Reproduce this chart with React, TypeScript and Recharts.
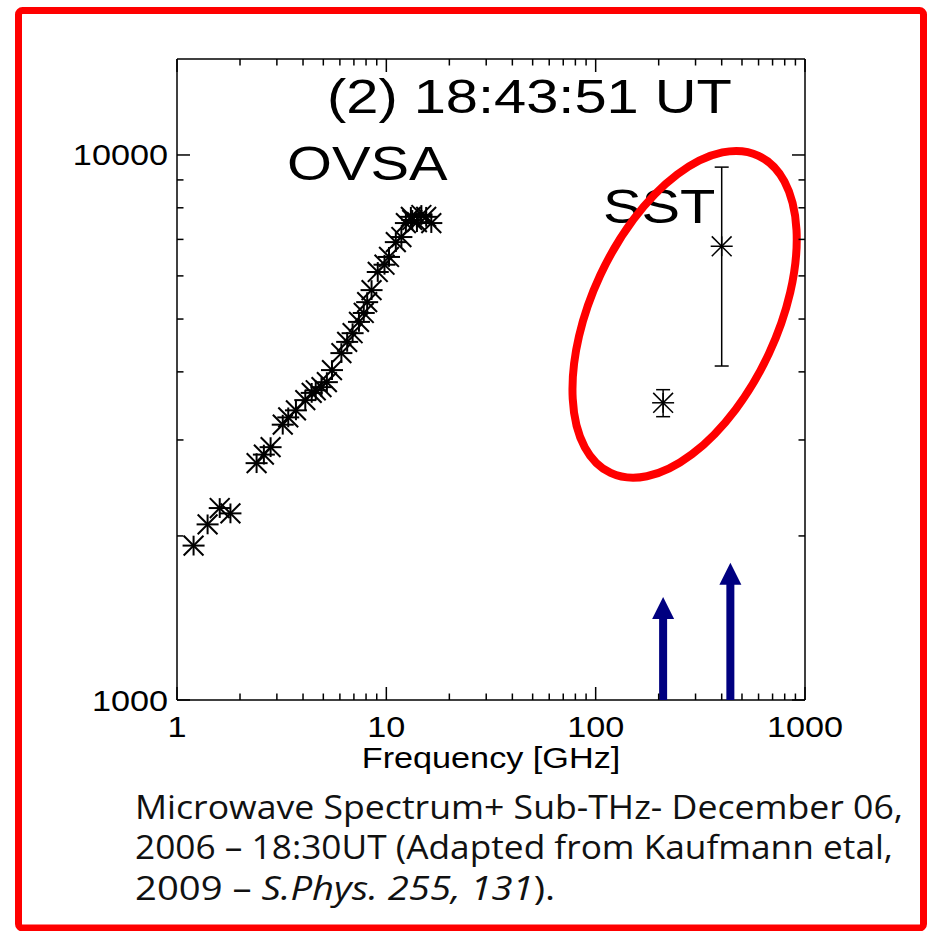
import React from 'react';
import { ScatterChart, Scatter, XAxis, YAxis, ErrorBar, ReferenceDot } from 'recharts';

// OVSA flux densities (sfu) against frequency (GHz)
const ovsaFreq = [1.2, 1.4, 1.6, 1.8, 2.4, 2.6, 2.8, 3.2, 3.4, 3.7, 4.1, 4.4, 4.6, 4.9, 5.2, 5.5, 6.1, 6.5, 6.9, 7.4, 7.8, 8.1, 8.5, 9.1, 9.8, 10.3, 11.1, 11.8, 12.4, 13.1, 13.3, 14.0, 14.7, 15.5, 16.4];
const ovsaFlux = [1920, 2100, 2250, 2200, 2720, 2820, 2910, 3200, 3300, 3400, 3550, 3660, 3700, 3750, 3830, 4030, 4330, 4540, 4710, 4940, 5130, 5370, 5650, 6100, 6290, 6500, 6920, 7070, 7500, 7700, 7600, 7530, 7760, 7700, 7500];

// SST points with their errors
const sstFreq = [210, 400];
const sstFlux = [3510, 6800];
const sstErr = [200, 2700];

// arrows marking the SST channels
const arrowFreq = [210, 440];
const arrowTip = [1545, 1785];

const decades = [1, 10, 100, 1000];
const xTicks = [1, 10, 100].flatMap((d) => [1, 2, 3, 4, 5, 6, 7, 8, 9].map((m) => m * d)).concat([1000]);
const yTicks = [1000, 2000, 3000, 4000, 5000, 6000, 7000, 8000, 9000, 10000];
const yLabels = [1000, 10000];

const W = 930;
const H = 931;
// axes take 1px each, so the plot box runs x 177..805, y 59..700
const margin = { top: 58, right: 124, bottom: 230, left: 176 };
const PLOT_BOTTOM = 700;

const ovsaData = ovsaFreq.map((f, i) => ({ freq: f, flux: ovsaFlux[i] }));
const sstData = sstFreq.map((f, i) => ({ freq: f, flux: sstFlux[i], err: sstErr[i] }));
const arrowData = arrowFreq.map((f, i) => ({ freq: f, flux: arrowTip[i] }));

const FONT = '"Liberation Sans", Arial, Helvetica, sans-serif';
const SX = 1.18;

const Asterisk = (props: any) => {
  const { cx, cy, r = 11, sw = 2 } = props;
  if (cx == null || cy == null) return null;
  const d = r * 0.9;
  return (
    <g stroke="#000" strokeWidth={sw}>
      <line x1={cx - r} y1={cy} x2={cx + r} y2={cy} />
      <line x1={cx} y1={cy - d} x2={cx} y2={cy + d} />
      <line x1={cx - r * 0.9} y1={cy - d} x2={cx + r * 0.9} y2={cy + d} />
      <line x1={cx - r * 0.9} y1={cy + d} x2={cx + r * 0.9} y2={cy - d} />
    </g>
  );
};

const Arrow = (props: any) => {
  const { cx, cy } = props;
  if (cx == null || cy == null) return null;
  const head = 22;
  const hw = 11;
  const sw = 4;
  return (
    <g fill="#000080">
      <polygon points={`${cx},${cy} ${cx - hw},${cy + head} ${cx + hw},${cy + head}`} />
      <rect x={cx - sw} y={cy + head - 1} width={sw * 2} height={PLOT_BOTTOM - cy - head + 1} />
    </g>
  );
};

const BottomTick = (props: any) => {
  const { x, y, payload } = props;
  const v = payload.value;
  const major = decades.includes(v);
  return (
    <g>
      <line x1={x} x2={x} y1={y} y2={y - (major ? 13 : 6.5)} stroke="#000" strokeWidth={1.5} />
      {major && (
        <text transform={`translate(${x},${y + 37}) scale(${SX},1)`} textAnchor="middle" fontFamily={FONT} fontSize={29} fill="#000">
          {v}
        </text>
      )}
    </g>
  );
};

const TopTick = (props: any) => {
  const { x, y, payload } = props;
  const major = decades.includes(payload.value);
  return <line x1={x} x2={x} y1={y} y2={y + (major ? 13 : 6.5)} stroke="#000" strokeWidth={1.5} />;
};

const LeftTick = (props: any) => {
  const { x, y, payload } = props;
  const v = payload.value;
  const major = yLabels.includes(v);
  return (
    <g>
      <line x1={x} x2={x + (major ? 13 : 6.5)} y1={y} y2={y} stroke="#000" strokeWidth={1.5} />
      {major && (
        <text transform={`translate(${x - 9},${y + 10.5}) scale(${SX},1)`} textAnchor="end" fontFamily={FONT} fontSize={29} fill="#000">
          {v}
        </text>
      )}
    </g>
  );
};

const RightTick = (props: any) => {
  const { x, y, payload } = props;
  const major = yLabels.includes(payload.value);
  return <line x1={x} x2={x - (major ? 13 : 6.5)} y1={y} y2={y} stroke="#000" strokeWidth={1.5} />;
};

const SstEllipse = (props: any) => {
  const { cx, cy } = props;
  if (cx == null || cy == null) return null;
  return (
    <ellipse cx={cx} cy={cy} rx={93} ry={175} transform={`rotate(25 ${cx} ${cy})`} fill="none" stroke="#ff0000" strokeWidth={8} />
  );
};

const axisLine = { stroke: '#000', strokeWidth: 1.5 };

export default function App() {
  return (
    <div style={{ position: 'absolute', left: 0, top: 0, width: W, height: H, background: '#fff' }}>
      <svg width={W} height={H} style={{ position: 'absolute', left: 0, top: 0 }}>
        <rect x={18.5} y={10.5} width={905} height={917.5} rx={4} fill="#fff" stroke="#ff0000" strokeWidth={7} />
        <g fontFamily={FONT} fill="#000">
          <text transform={`translate(327,113) scale(${SX},1)`} fontSize={49}>(2) 18:43:51 UT</text>
          <text transform={`translate(287,180) scale(${SX},1)`} fontSize={49}>OVSA</text>
          <text transform={`translate(603,223) scale(${SX},1)`} fontSize={49}>SST</text>
          <text transform={`translate(491,768) scale(${SX},1)`} fontSize={29} textAnchor="middle">Frequency [GHz]</text>
        </g>
        <g fontFamily='"Open Sans", "Noto Sans", sans-serif' fontSize={32} fill="#111">
          <text x={135} y={819} textLength={768} lengthAdjust="spacingAndGlyphs">Microwave Spectrum+ Sub-THz- December 06,</text>
          <text x={135} y={859} textLength={758} lengthAdjust="spacingAndGlyphs">2006 – 18:30UT (Adapted from Kaufmann etal,</text>
          <text x={135} y={900} textLength={420} lengthAdjust="spacingAndGlyphs">
            2009 – <tspan fontStyle="italic">S.Phys. 255, 131</tspan>).
          </text>
        </g>
      </svg>
      <div style={{ position: 'absolute', left: 0, top: 0 }}>
        <ScatterChart width={W} height={H} margin={margin}>
          <XAxis
            xAxisId="bottom"
            dataKey="freq"
            type="number"
            scale="log"
            domain={[1, 1000]}
            allowDataOverflow
            ticks={xTicks}
            interval={0}
            height={1}
            tickSize={0}
            tickMargin={0}
            tickLine={false}
            axisLine={axisLine}
            tick={<BottomTick />}
          />
          <XAxis
            xAxisId="top"
            orientation="top"
            dataKey="freq"
            type="number"
            scale="log"
            domain={[1, 1000]}
            allowDataOverflow
            ticks={xTicks}
            interval={0}
            height={1}
            tickSize={0}
            tickMargin={0}
            tickLine={false}
            axisLine={axisLine}
            tick={<TopTick />}
          />
          <YAxis
            yAxisId="left"
            dataKey="flux"
            type="number"
            scale="log"
            domain={[1000, 15000]}
            allowDataOverflow
            ticks={yTicks}
            interval={0}
            width={1}
            tickSize={0}
            tickMargin={0}
            tickLine={false}
            axisLine={axisLine}
            tick={<LeftTick />}
          />
          <YAxis
            yAxisId="right"
            orientation="right"
            dataKey="flux"
            type="number"
            scale="log"
            domain={[1000, 15000]}
            allowDataOverflow
            ticks={yTicks}
            interval={0}
            width={1}
            tickSize={0}
            tickMargin={0}
            tickLine={false}
            axisLine={axisLine}
            tick={<RightTick />}
          />
          {/* keeps the top/right frame axes tied to the same scales */}
          <Scatter xAxisId="top" yAxisId="right" data={ovsaData} shape={() => null} isAnimationActive={false} />
          <Scatter xAxisId="bottom" yAxisId="left" data={arrowData} shape={<Arrow />} isAnimationActive={false} />
          <Scatter xAxisId="bottom" yAxisId="left" data={ovsaData} shape={<Asterisk r={11} sw={2} />} isAnimationActive={false} />
          <Scatter xAxisId="bottom" yAxisId="left" data={sstData} shape={<Asterisk r={11} sw={1.5} />} isAnimationActive={false}>
            <ErrorBar dataKey="err" direction="y" width={7} stroke="#000" strokeWidth={1.5} />
          </Scatter>
          <ReferenceDot xAxisId="bottom" yAxisId="left" x={266} y={5100} shape={<SstEllipse />} ifOverflow="visible" />
        </ScatterChart>
      </div>
    </div>
  );
}
